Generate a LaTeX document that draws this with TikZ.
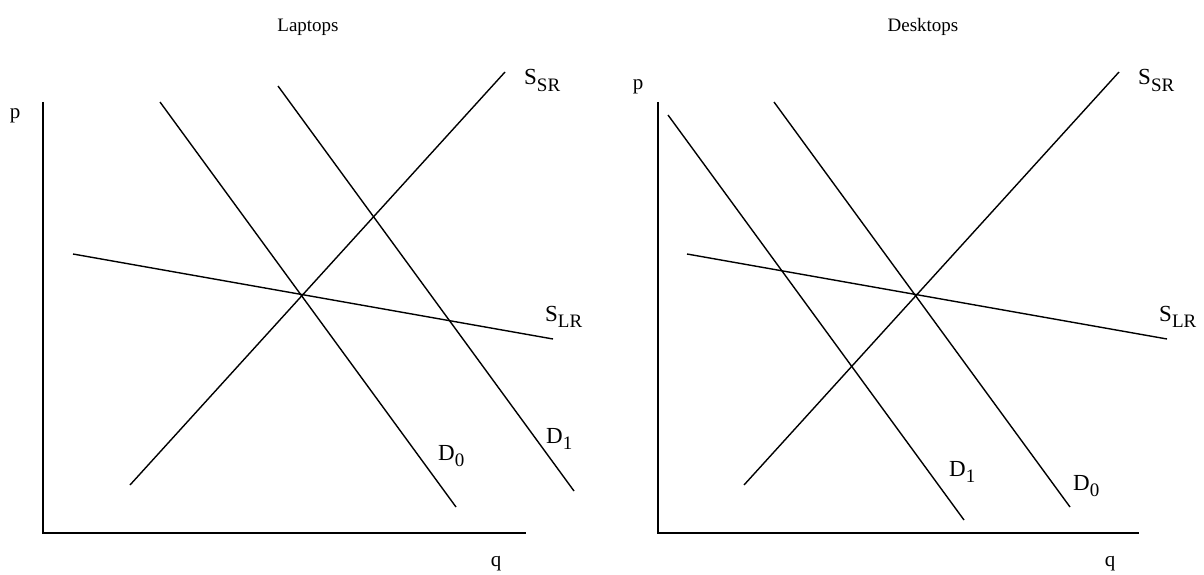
\documentclass[tikz,border=0pt]{standalone}
\usepackage{fontspec}
\setmainfont{Liberation Serif}
\newcommand{\lbl}[2]{#1\raisebox{-0.3em}{\fontsize{19}{19}\selectfont #2}}
\begin{document}
\begin{tikzpicture}[x=1pt,y=-1pt,
  curve/.style={line width=1.4pt,line cap=butt},
  axis/.style={line width=1.6pt},
  txt/.style={font=\fontsize{23}{26}\selectfont,inner sep=0pt,anchor=base west},
  ax/.style={font=\fontsize{21}{24}\selectfont,inner sep=0pt,anchor=base},
  ttl/.style={font=\fontsize{19}{22}\selectfont,inner sep=0pt,anchor=base}]
\useasboundingbox (0,0) rectangle (1204,575);
% ---------- Left panel: Laptops ----------
\node[ttl] (tL) at (308,32) {Laptops};
\coordinate (oL) at (43,533);
\coordinate (yL) at (43,102);
\coordinate (xL) at (526,533);
\draw[axis] (yL) -- (oL) -- (xL);
\node[ax] (pL) at (15,119) {p};
\node[ax] (qL) at (496,566) {q};
\coordinate (ssrL1) at (130,485);
\coordinate (ssrL2) at (505,72);
\draw[curve] (ssrL1) -- (ssrL2);
\node[txt] (ssrLl) at (524,85) {\lbl{S}{SR}};
\coordinate (slrL1) at (73,254);
\coordinate (slrL2) at (553,339);
\draw[curve] (slrL1) -- (slrL2);
\node[txt] (slrLl) at (545,321) {\lbl{S}{LR}};
\coordinate (d0L1) at (160,102);
\coordinate (d0L2) at (456,507);
\draw[curve] (d0L1) -- (d0L2);
\node[txt] (d0Ll) at (438,460) {\lbl{D}{0}};
\coordinate (d1L1) at (278,86);
\coordinate (d1L2) at (574,491);
\draw[curve] (d1L1) -- (d1L2);
\node[txt] (d1Ll) at (546,443) {\lbl{D}{1}};
% ---------- Right panel: Desktops ----------
\node[ttl] (tR) at (923,32) {Desktops};
\coordinate (oR) at (658,533);
\coordinate (yR) at (658,102);
\coordinate (xR) at (1139,533);
\draw[axis] (yR) -- (oR) -- (xR);
\node[ax] (pR) at (638,90) {p};
\node[ax] (qR) at (1110,566) {q};
\coordinate (ssrR1) at (744,485);
\coordinate (ssrR2) at (1119,72);
\draw[curve] (ssrR1) -- (ssrR2);
\node[txt] (ssrRl) at (1138,85) {\lbl{S}{SR}};
\coordinate (slrR1) at (687,254);
\coordinate (slrR2) at (1167,339);
\draw[curve] (slrR1) -- (slrR2);
\node[txt] (slrRl) at (1159,321) {\lbl{S}{LR}};
\coordinate (d0R1) at (774,102);
\coordinate (d0R2) at (1070,507);
\draw[curve] (d0R1) -- (d0R2);
\node[txt] (d0Rl) at (1073,490) {\lbl{D}{0}};
\coordinate (d1R1) at (668,115);
\coordinate (d1R2) at (964,520);
\draw[curve] (d1R1) -- (d1R2);
\node[txt] (d1Rl) at (949,476) {\lbl{D}{1}};
\end{tikzpicture}
\end{document}
